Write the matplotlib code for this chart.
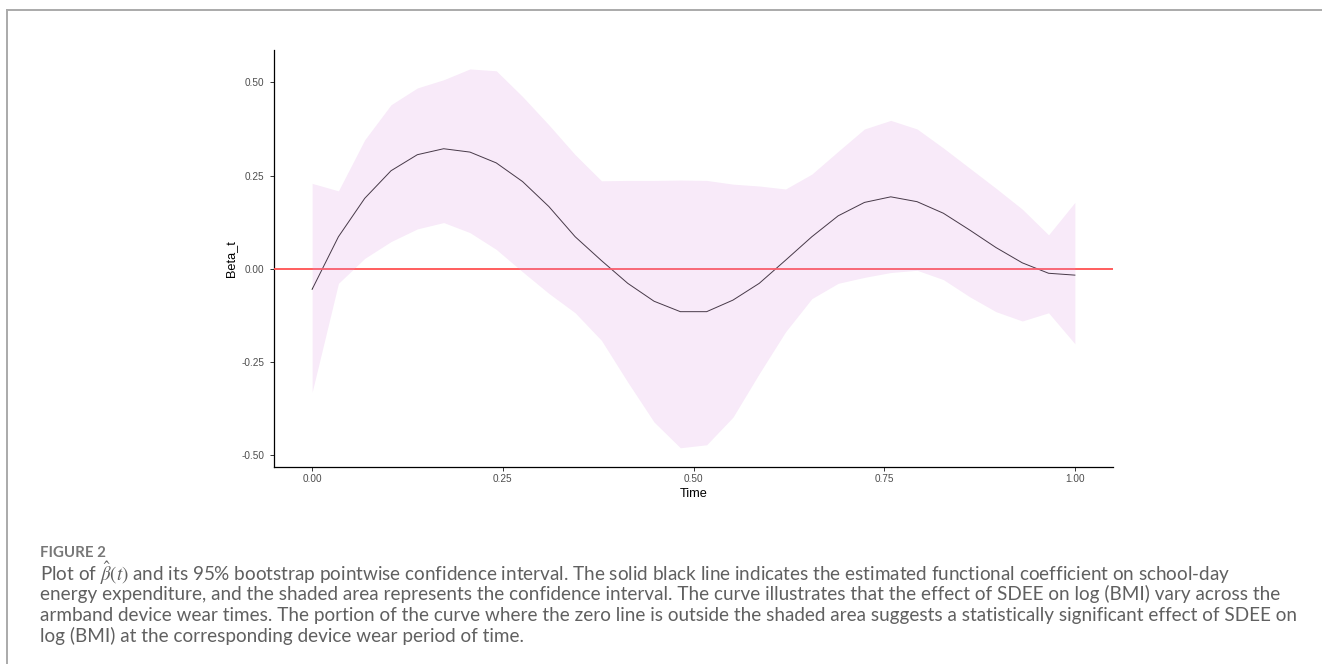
import numpy as np
import matplotlib
matplotlib.use("Agg")
import matplotlib.pyplot as plt
from matplotlib.lines import Line2D

# functional coefficient estimate and 95% bootstrap band, 30 grid points on [0, 1]
time = np.linspace(0, 1, 30)
beta_t = [-0.055, 0.086, 0.189, 0.263, 0.306, 0.322, 0.313, 0.284, 0.234, 0.167,
          0.086, 0.022, -0.039, -0.087, -0.115, -0.115, -0.084, -0.039, 0.023, 0.086,
          0.142, 0.178, 0.193, 0.180, 0.149, 0.104, 0.057, 0.016, -0.012, -0.017]
upper = [0.229, 0.209, 0.346, 0.440, 0.485, 0.507, 0.536, 0.531, 0.462, 0.386,
         0.306, 0.236, 0.237, 0.237, 0.238, 0.237, 0.227, 0.222, 0.214, 0.254,
         0.315, 0.375, 0.398, 0.375, 0.324, 0.270, 0.216, 0.160, 0.091, 0.178]
lower = [-0.331, -0.039, 0.028, 0.073, 0.107, 0.124, 0.097, 0.052, -0.008, -0.066,
         -0.118, -0.192, -0.304, -0.411, -0.480, -0.472, -0.398, -0.281, -0.169, -0.080,
         -0.039, -0.023, -0.010, -0.004, -0.029, -0.075, -0.115, -0.140, -0.118, -0.201]

xticks = [0.0, 0.25, 0.5, 0.75, 1.0]
yticks = [-0.5, -0.25, 0.0, 0.25, 0.5]

caption_head = "FIGURE 2"
caption_lines = [
    r"Plot of $\hat{\beta}(t)$ and its 95% bootstrap pointwise confidence interval. The solid black line indicates the estimated functional coefficient on school-day",
    "energy expenditure, and the shaded area represents the confidence interval. The curve illustrates that the effect of SDEE on log (BMI) vary across the",
    "armband device wear times. The portion of the curve where the zero line is outside the shaded area suggests a statistically significant effect of SDEE on",
    "log (BMI) at the corresponding device wear period of time.",
]

plt.rcParams["mathtext.fontset"] = "stix"

W, H = 1322, 664
fig = plt.figure(figsize=(W / 100, H / 100), dpi=100)
ax = fig.add_axes([274 / W, 1 - 466.7 / H, (1113 - 274) / W, (466.7 - 50) / H])

ax.plot(time, beta_t, color="#222222", lw=0.7, zorder=2)
ax.axhline(0, color="#ff5050", lw=1.3, zorder=3)
ax.fill_between(time, lower, upper, color="#dc96e1", alpha=0.2, lw=0, zorder=4)

# ggplot-style 5% padding around the data
lo, hi = min(lower), max(upper)
pad = 0.05 * (hi - lo)
ax.set_ylim(lo - pad, hi + pad)
ax.set_xlim(-0.05, 1.05)

for side in ["top", "right"]:
    ax.spines[side].set_visible(False)
for side in ["left", "bottom"]:
    ax.spines[side].set_linewidth(0.9)
    ax.spines[side].set_color("black")

tick_font = {"family": "Liberation Sans", "size": 7.2, "color": "#4d4d4d"}
ax.set_xticks(xticks)
ax.set_xticklabels(["%.2f" % v for v in xticks], fontdict=tick_font)
ax.set_yticks(yticks)
ax.set_yticklabels(["%.2f" % v for v in yticks], fontdict=tick_font)
ax.tick_params(axis="x", length=3, width=0.7, color="#333333", pad=2)
ax.tick_params(axis="y", length=3, width=0.7, color="#333333", pad=4)

ax.set_xlabel("Time", family="Liberation Sans", size=9.2, color="black", labelpad=3)
ax.set_ylabel("Beta_t", family="Liberation Sans", size=9.2, color="black", labelpad=3)

# frame around the figure panel
fig.add_artist(Line2D([7 / W, 7 / W], [0, 1 - 10 / H], transform=fig.transFigure,
                      color="#aaaaaa", lw=1.4))
fig.add_artist(Line2D([7 / W, 1], [1 - 10 / H, 1 - 10 / H], transform=fig.transFigure,
                      color="#aaaaaa", lw=1.4))

fig.text(40 / W, 1 - 553 / H, caption_head, family="Lato", weight="bold", size=10.8,
         color="#777777", va="center", ha="left")
for k, line in enumerate(caption_lines):
    fig.text(40 / W, 1 - (573 + 21 * k) / H, line, family="Lato", size=13.6,
             color="#606060", va="center", ha="left")

fig.savefig("out.png", dpi=100)
